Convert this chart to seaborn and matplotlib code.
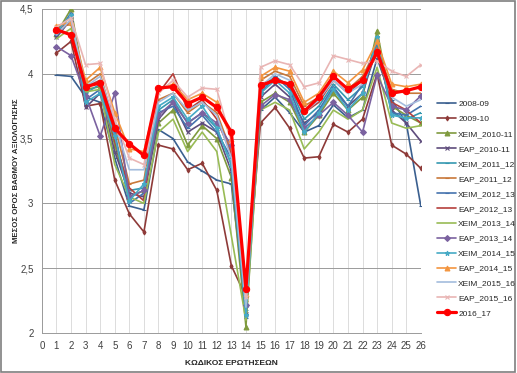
import matplotlib
matplotlib.use("Agg")
import pandas as pd
import matplotlib.pyplot as plt
import seaborn as sns
from matplotlib.patches import Rectangle

# Κωδικοί ερωτήσεων
questions = list(range(1, 27))

# Μέσοι όροι ανά περίοδο (εκτίμηση από το διάγραμμα)
s2008_09 = [3.99, 3.98, 3.82, 3.78, 3.35, 2.98, 2.95, 3.57, 3.50, 3.32, 3.25, 3.18, 3.15, 2.20, 3.72, 3.82, 3.70, 3.55, 3.60, 3.76, 3.66, 3.72, 4.12, 3.80, 3.62, 2.98]
s2009_10 = [4.16, 4.25, 3.75, 3.77, 3.18, 2.92, 2.78, 3.45, 3.42, 3.26, 3.31, 3.10, 2.52, 2.28, 3.62, 3.74, 3.58, 3.35, 3.36, 3.61, 3.55, 3.65, 4.00, 3.45, 3.38, 3.27]
xeim_2010_11 = [4.31, 4.50, 3.88, 3.90, 3.45, 3.05, 3.10, 3.62, 3.72, 3.45, 3.60, 3.50, 3.20, 2.05, 3.78, 3.85, 3.78, 3.55, 3.68, 3.85, 3.72, 3.82, 4.33, 3.75, 3.68, 3.62]
eap_2010_11 = [4.28, 4.42, 3.74, 3.85, 3.40, 3.08, 3.05, 3.65, 3.78, 3.55, 3.62, 3.55, 3.25, 2.15, 3.82, 3.92, 3.82, 3.62, 3.70, 3.88, 3.75, 3.85, 4.20, 3.72, 3.62, 3.48]
xeim_2011_12 = [4.33, 4.45, 3.85, 3.92, 3.50, 3.10, 3.12, 3.72, 3.80, 3.62, 3.70, 3.58, 3.30, 2.18, 3.88, 3.98, 3.90, 3.65, 3.75, 3.92, 3.80, 3.90, 4.22, 3.70, 3.65, 3.70]
eap_2011_12 = [4.36, 4.38, 3.92, 4.00, 3.60, 3.15, 3.18, 3.80, 3.85, 3.70, 3.78, 3.70, 3.40, 2.25, 3.95, 4.02, 3.98, 3.75, 3.82, 3.98, 3.88, 3.98, 4.20, 3.88, 3.85, 3.85]
xeim_2012_13 = [4.30, 4.47, 3.80, 3.88, 3.55, 3.00, 3.08, 3.70, 3.75, 3.58, 3.68, 3.55, 3.35, 2.12, 3.85, 3.98, 3.88, 3.60, 3.72, 3.90, 3.75, 3.92, 4.25, 3.70, 3.68, 3.75]
eap_2012_13 = [4.34, 4.40, 3.90, 3.95, 3.48, 3.12, 3.02, 3.85, 4.00, 3.72, 3.80, 3.65, 3.38, 2.22, 3.92, 3.96, 3.92, 3.70, 3.78, 3.95, 3.85, 3.95, 4.15, 3.78, 3.72, 3.62]
xeim_2013_14 = [4.27, 4.35, 3.86, 3.88, 3.30, 3.05, 3.00, 3.55, 3.65, 3.40, 3.55, 3.40, 2.75, 2.10, 3.72, 3.78, 3.72, 3.42, 3.55, 3.72, 3.65, 3.72, 4.05, 3.62, 3.58, 3.60]
eap_2013_14 = [4.21, 4.14, 3.83, 3.52, 3.85, 3.05, 3.10, 3.68, 3.78, 3.62, 3.70, 3.62, 3.45, 2.22, 3.75, 3.84, 3.80, 3.58, 3.68, 3.78, 3.68, 3.55, 3.99, 3.75, 3.72, 3.83]
xeim_2014_15 = [4.32, 4.45, 3.78, 3.85, 3.52, 3.02, 3.15, 3.75, 3.82, 3.65, 3.75, 3.58, 3.30, 2.14, 3.85, 3.95, 3.85, 3.55, 3.70, 3.88, 3.72, 3.85, 4.28, 3.68, 3.66, 3.66]
eap_2014_15 = [4.37, 4.40, 3.95, 4.05, 3.70, 3.42, 3.40, 3.88, 3.92, 3.80, 3.85, 3.78, 3.50, 2.30, 3.98, 4.05, 4.02, 3.78, 3.85, 4.02, 3.93, 4.03, 4.25, 3.92, 3.90, 3.92]
xeim_2015_16 = [4.30, 4.42, 3.90, 3.98, 3.62, 3.26, 3.26, 3.78, 3.85, 3.72, 3.78, 3.68, 3.35, 2.20, 3.90, 4.00, 3.95, 3.70, 3.80, 3.95, 3.85, 3.92, 4.18, 3.82, 3.75, 3.80]
eap_2015_16 = [4.36, 4.43, 4.07, 4.08, 3.65, 3.35, 3.30, 3.85, 3.95, 3.82, 3.89, 3.88, 3.48, 2.28, 4.05, 4.10, 4.07, 3.90, 3.93, 4.14, 4.11, 4.08, 4.10, 4.02, 3.98, 4.07]
s2016_17 = [4.34, 4.30, 3.90, 3.93, 3.58, 3.46, 3.37, 3.89, 3.90, 3.77, 3.82, 3.74, 3.55, 2.34, 3.91, 3.95, 3.92, 3.71, 3.82, 3.98, 3.88, 3.95, 4.17, 3.85, 3.87, 3.90]

labels = ["2008-09", "2009-10", "XEIM_2010-11", "EAP_2010-11", "XEIM_2011_12",
          "EAP_2011_12", "XEIM_2012_13", "EAP_2012_13", "XEIM_2013_14",
          "EAP_2013_14", "XEIM_2014_15", "EAP_2014_15", "XEIM_2015_16",
          "EAP_2015_16", "2016_17"]
values = [s2008_09, s2009_10, xeim_2010_11, eap_2010_11, xeim_2011_12,
          eap_2011_12, xeim_2012_13, eap_2012_13, xeim_2013_14,
          eap_2013_14, xeim_2014_15, eap_2014_15, xeim_2015_16,
          eap_2015_16, s2016_17]

y_ticks = [2, 2.5, 3, 3.5, 4, 4.5]
y_tick_labels = ["2", "2,5", "3", "3,5", "4", "4,5"]

# στυλ γραμμών (χρώμα, σημάδι, πάχος, μέγεθος σημαδιού)
styles = [
    ("#3A5F8F", "_", 1.2, 3),
    ("#8E3A38", "d", 1.2, 2.5),
    ("#7F9A3E", "^", 1.2, 3.5),
    ("#5E4C7C", "x", 1.2, 3),
    ("#3598B0", "_", 1.2, 3),
    ("#C8783A", "_", 1.2, 3),
    ("#4573AE", "_", 1.2, 3),
    ("#B5403C", "", 1.2, 0),
    ("#98BB55", "", 1.2, 0),
    ("#7B62A0", "D", 1.2, 3),
    ("#46AAC5", "*", 1.2, 3.5),
    ("#F3953F", "^", 1.2, 3.5),
    ("#A3BCDD", "", 1.2, 0),
    ("#E9B5B4", "x", 1.2, 3),
    ("#FF0000", "o", 2.3, 4.5),
]

df = pd.DataFrame({"q": questions})
for lab, vals in zip(labels, values):
    df[lab] = vals

sns.set_style("white")
plt.rcParams["font.family"] = ["Liberation Sans", "DejaVu Sans"]

fig = plt.figure(figsize=(5.17, 3.73), dpi=100)
ax = fig.add_axes([0.081, 0.107, 0.733, 0.869])

for lab, (col, mk, lw, ms) in zip(labels, styles):
    sns.lineplot(data=df, x="q", y=lab, ax=ax, color=col, marker=mk if mk else None,
                 linewidth=lw, markersize=ms, markeredgecolor=col,
                 markeredgewidth=0.8, label=lab, legend=False)

ax.set_xlim(0, 26)
ax.set_ylim(2, 4.5)
ax.set_xticks(range(0, 27))
ax.set_yticks(y_ticks)
ax.set_yticklabels(y_tick_labels)
ax.tick_params(axis="both", labelsize=7, colors="#404040", length=2, width=0.6, pad=4)
ax.grid(axis="y", color="#9A9A9A", linewidth=0.7)
ax.grid(axis="x", color="#DCDCDC", linewidth=0.7)
ax.set_axisbelow(True)
for sp in ["top", "right"]:
    ax.spines[sp].set_visible(False)
for sp in ["left", "bottom"]:
    ax.spines[sp].set_color("#9A9A9A")
    ax.spines[sp].set_linewidth(0.7)

ax.set_xlabel("ΚΩΔΙΚΟΣ ΕΡΩΤΗΣΕΩΝ", fontsize=6, fontweight="bold", labelpad=6)
ax.set_ylabel("ΜΕΣΟΣ ΟΡΟΣ ΒΑΘΜΟΥ ΑΞΙΟΛΟΓΗΣΗΣ", fontsize=5.6, fontweight="bold")
ax.yaxis.set_label_coords(-0.058, 0.5)

handles, labs = ax.get_legend_handles_labels()
fig.legend(handles, labs, loc="center left", bbox_to_anchor=(0.838, 0.44),
           frameon=False, fontsize=6, labelspacing=0.85, handlelength=2.2,
           handletextpad=0.3, borderpad=0)

# περίγραμμα εικόνας
fig.patches.append(Rectangle((0.002, 0.003), 0.995, 0.994, transform=fig.transFigure,
                             fill=False, edgecolor="#7F7F7F", linewidth=1.2))

fig.savefig("out.png", dpi=100)
